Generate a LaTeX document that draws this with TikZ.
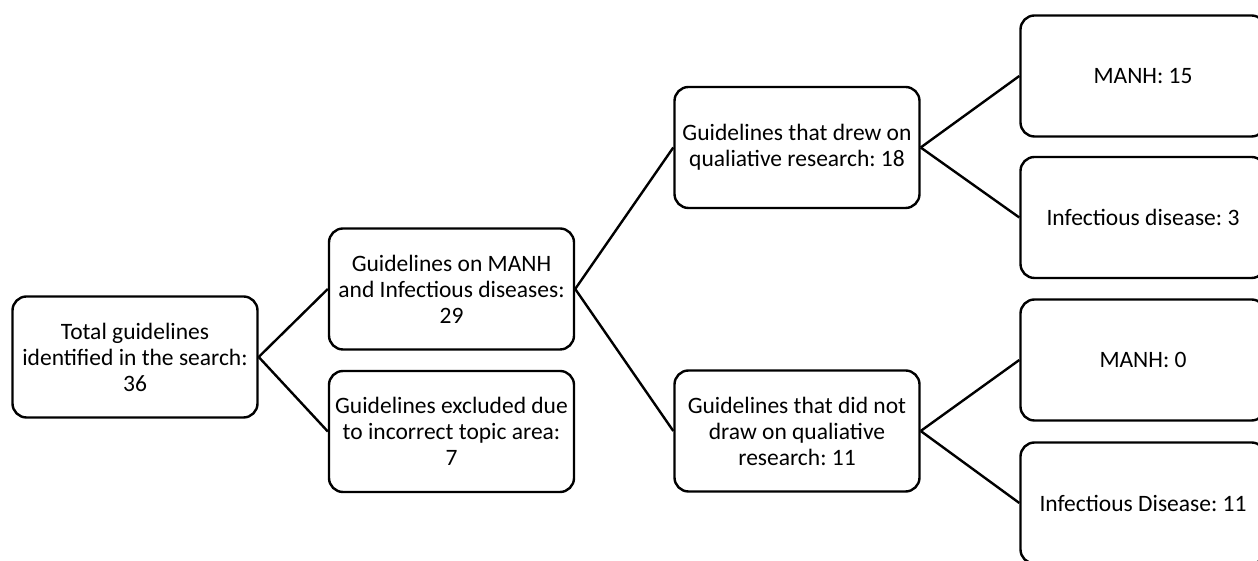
\documentclass[tikz,border=0pt]{standalone}
\usepackage{fontspec}
\setmainfont{Carlito}
\usepackage{tikz}
\usetikzlibrary{positioning}
\frenchspacing

\begin{document}
\begin{tikzpicture}
      [
      x=1pt,y=1pt,
      box/.style={rectangle,draw,line width=2.4pt,rounded corners=14pt,align=center,
        minimum width=245pt,minimum height=121pt,inner sep=2pt,
        font=\fontsize{23.5}{26}\selectfont},
      link/.style={line width=2.4pt}
      ]
      \clip (0,0) rectangle (1258,561);
      \node (0) at (135,204) [box] {Total guidelines\\identified in the search:\\36};
      \node (1) at (451.5,272) [box] {Guidelines on MANH\\and Infectious diseases:\\29};
      \node (2) at (451.5,129.5) [box] {Guidelines excluded due\\to incorrect topic area:\\7};
      \node (3) at (797,413.5) [box] {Guidelines that drew on\\qualiative research: 18};
      \node (4) at (797,130) [box] {Guidelines that did not\\draw on qualiative\\research: 11};
      \node (5) at (1143,485) [box] {MANH: 15};
      \node (6) at (1143,343.5) [box] {Infectious disease: 3};
      \node (7) at (1143,201) [box] {MANH: 0};
      \node (8) at (1143,58) [box] {Infectious Disease: 11};
      \draw [link] (0.east) to (1.west);
      \draw [link] (0.east) to (2.west);
      \draw [link] (1.east) to (3.west);
      \draw [link] (1.east) to (4.west);
      \draw [link] (3.east) to (5.west);
      \draw [link] (3.east) to (6.west);
      \draw [link] (4.east) to (7.west);
      \draw [link] (4.east) to (8.west);
    \end{tikzpicture}
\end{document}
